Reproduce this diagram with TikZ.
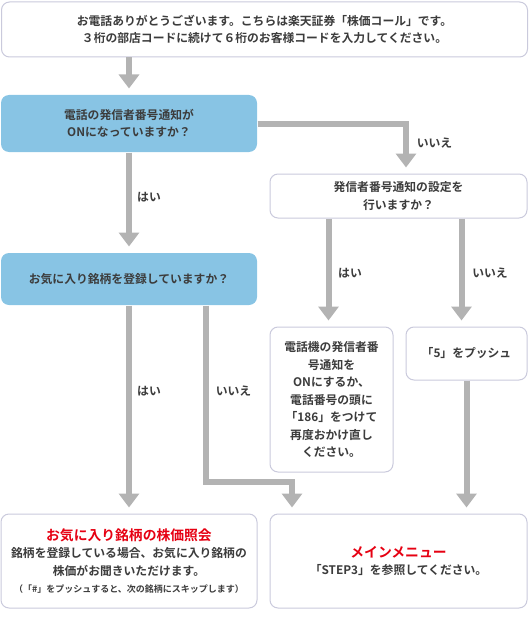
\documentclass[tikz,border=0pt]{standalone}
\usepackage{fontspec}
\setmainfont{Noto Sans CJK JP}[BoldFont=* Bold]
\usetikzlibrary{arrows.meta}
\definecolor{txt}{HTML}{3C3C3C}
\definecolor{arrgray}{HTML}{B3B3B3}
\definecolor{qblue}{HTML}{88C4E4}
\definecolor{bordc}{HTML}{CACADC}
\definecolor{hred}{HTML}{E60012}
\tikzset{
 box/.style={draw=bordc, line width=1pt, rounded corners=8pt, fill=white, inner sep=0pt, align=center, text=txt, font=\fontsize{11.8}{17.5}\selectfont\bfseries},
 qbox/.style={box, draw=none, fill=qblue},
 arr/.style={draw=arrgray, line width=6pt, -{Triangle[width=20pt,length=14pt]}, shorten >=6pt},
 lbl/.style={text=txt, font=\fontsize{11.8}{14}\selectfont\bfseries, inner sep=0pt}
}
\begin{document}
\begin{tikzpicture}[x=1pt,y=-1pt]
\useasboundingbox (0,0) rectangle (529,623);
\node[box, minimum width=526pt, minimum height=55pt] (top) at (264.5,29.5) {お電話ありがとうございます。こちらは楽天証券「株価コール」です。\\３桁の部店コードに続けて６桁のお客様コードを入力してください。};
\node[qbox, minimum width=256pt, minimum height=57pt] (q1) at (129,123.5) {電話の発信者番号通知が\\ONになっていますか？};
\node[box, minimum width=257pt, minimum height=44pt] (q2) at (398.5,196) {発信者番号通知の設定を\\行いますか？};
\node[qbox, minimum width=256pt, minimum height=52pt] (q3) at (129,279) {お気に入り銘柄を登録していますか？};
\node[box, minimum width=123pt, minimum height=145pt] (a1) at (331.5,399.5) {電話機の発信者番\\号通知を\\ONにするか、\\電話番号の頭に\\「186」をつけて\\再度おかけ直し\\ください。};
\node[box, minimum width=121pt, minimum height=53pt] (a2) at (466.5,353.5) {「5」をプッシュ};
\node[box, minimum width=256pt, minimum height=94pt] (r1) at (129,561) {{\color{hred}\fontsize{13.8}{18}\selectfont お気に入り銘柄の株価照会}\\銘柄を登録している場合、お気に入り銘柄の\\株価がお聞きいただけます。\\{\fontsize{9}{16}\selectfont （「\#」をプッシュすると、次の銘柄にスキップします）}};
\node[box, minimum width=257pt, minimum height=94pt] (r2) at (398.5,561) {{\color{hred}\fontsize{13.8}{18}\selectfont メインメニュー}\\「STEP3」を参照してください。};
\draw[arr] (q1.north |- top.south) -- (q1.north);
\draw[arr] (q1.east) -| ([xshift=7.5pt]q2.north);
\draw[arr] (q1.south) -- (q3.north);
\draw[arr] ([xshift=-3pt]a1.north |- q2.south) -- ([xshift=-3pt]a1.north);
\draw[arr] ([xshift=-5pt]a2.north |- q2.south) -- ([xshift=-5pt]a2.north);
\draw[arr] (a2.south) -- (a2.south |- r2.north);
\draw[arr] (q3.south) -- (r1.north);
\draw[arr] ([xshift=77pt]q3.south) -- ++(0,176) -| ([xshift=-106.5pt]r2.north);
\node[lbl] (l1) at (434.5,143) {いいえ};
\node[lbl] (l2) at (149,197) {はい};
\node[lbl] (l3) at (350,273) {はい};
\node[lbl] (l4) at (490,273) {いいえ};
\node[lbl] (l5) at (149,391) {はい};
\node[lbl] (l6) at (233.5,391) {いいえ};
\end{tikzpicture}
\end{document}
